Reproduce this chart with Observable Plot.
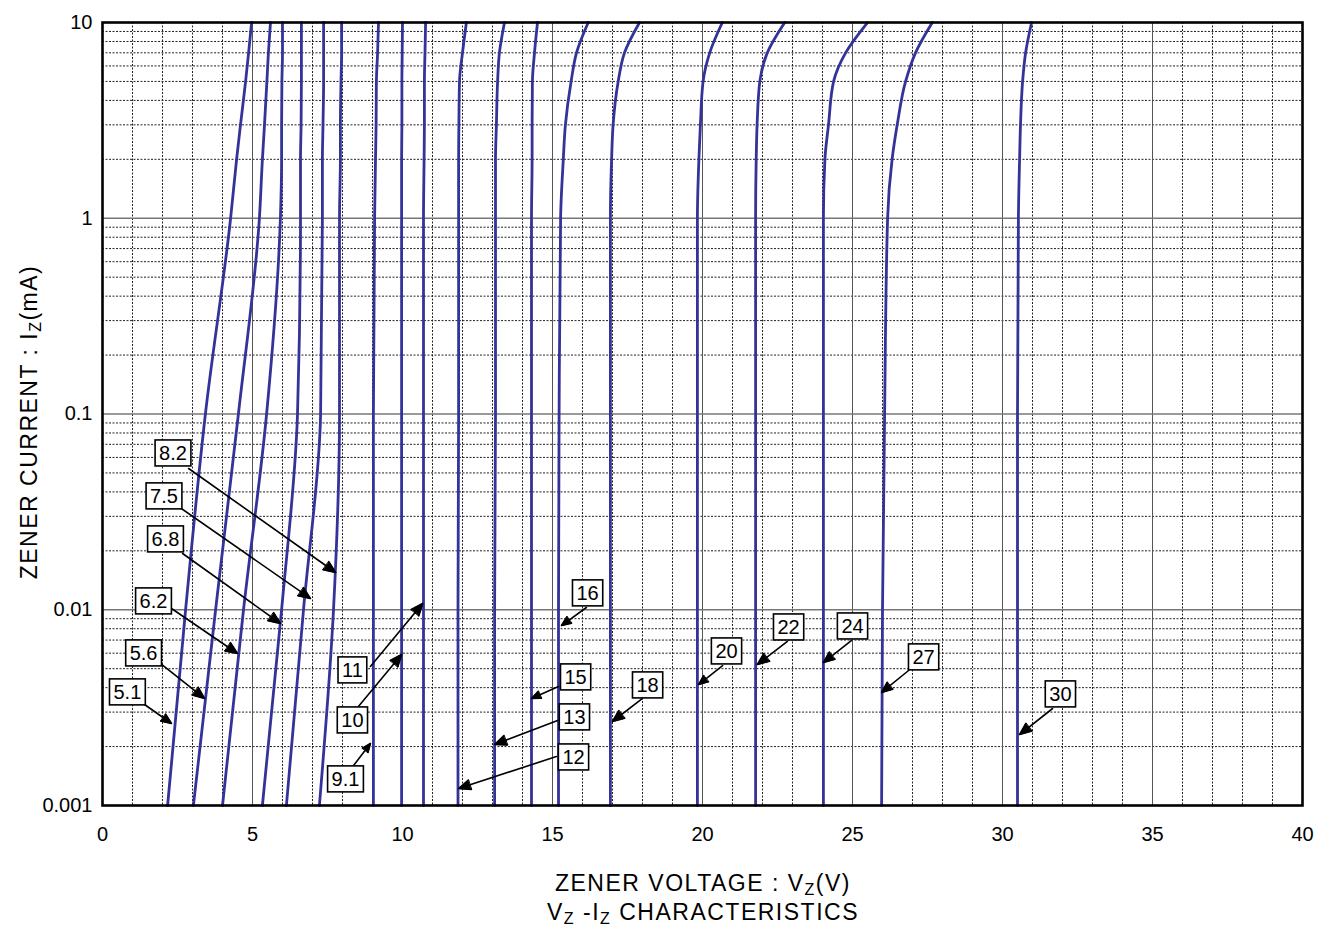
<!DOCTYPE html>
<html><head><meta charset="utf-8">
<script src="https://cdn.jsdelivr.net/npm/d3@7"></script>
<script src="https://cdn.jsdelivr.net/npm/@observablehq/plot@0.6"></script>
<style>
body{margin:0;background:#fff;}
svg{display:block;font-family:"Liberation Sans",Arial,Helvetica,sans-serif;}
</style>
</head><body><div id="chart"></div>
<script>
// Zener current levels (mA) at which each curve's voltage was read
const currentLevels = [0.001, 0.01, 0.1, 1, 2, 3, 5, 7, 10];
// Zener voltage (V) of each diode at those current levels
const vz5_1 = [2.17, 2.77, 3.43, 4.27, 4.47, 4.60, 4.77, 4.87, 4.97];
const vz5_6 = [3.03, 3.77, 4.53, 5.23, 5.33, 5.40, 5.48, 5.53, 5.60];
const vz6_2 = [4.00, 4.70, 5.47, 5.93, 5.97, 5.97, 5.98, 6.00, 6.00];
const vz6_8 = [5.33, 5.97, 6.50, 6.60, 6.60, 6.62, 6.63, 6.63, 6.63];
const vz7_5 = [6.13, 6.70, 7.27, 7.33, 7.33, 7.35, 7.37, 7.37, 7.37];
const vz8_2 = [7.23, 7.70, 7.90, 7.90, 7.93, 7.93, 7.95, 7.97, 7.97];
const vz9_1 = [9.03, 9.03, 9.03, 9.07, 9.10, 9.12, 9.13, 9.17, 9.20];
const vz10  = [9.97, 9.97, 9.97, 9.97, 9.97, 9.98, 9.98, 9.99, 10.00];
const vz11  = [10.70, 10.70, 10.70, 10.70, 10.72, 10.73, 10.73, 10.75, 10.77];
const vz12  = [11.85, 11.85, 11.87, 11.87, 11.87, 11.88, 11.90, 12.00, 12.13];
const vz13  = [13.07, 13.07, 13.10, 13.10, 13.10, 13.13, 13.17, 13.23, 13.40];
const vz15  = [14.30, 14.30, 14.30, 14.30, 14.32, 14.32, 14.33, 14.40, 14.50];
const vz16  = [15.20, 15.20, 15.22, 15.27, 15.36, 15.43, 15.62, 15.80, 16.19];
const vz18  = [16.93, 16.93, 16.93, 16.93, 16.97, 17.02, 17.19, 17.40, 17.90];
const vz20  = [19.83, 19.83, 19.83, 19.83, 19.88, 19.93, 20.02, 20.24, 20.66];
const vz22  = [21.77, 21.77, 21.77, 21.77, 21.79, 21.82, 21.91, 22.16, 22.74];
const vz24  = [24.03, 24.03, 24.03, 24.03, 24.08, 24.20, 24.37, 24.77, 25.50];
const vz27  = [25.97, 26.00, 26.07, 26.17, 26.32, 26.49, 26.77, 27.10, 27.66];
const vz30  = [30.50, 30.50, 30.50, 30.53, 30.57, 30.60, 30.67, 30.77, 30.97];

const diodeNames = ["5.1","5.6","6.2","6.8","7.5","8.2","9.1","10","11","12","13","15","16","18","20","22","24","27","30"];
const diodeSeries = [vz5_1, vz5_6, vz6_2, vz6_8, vz7_5, vz8_2, vz9_1, vz10, vz11, vz12, vz13, vz15, vz16, vz18, vz20, vz22, vz24, vz27, vz30];

// Callout labels: box centre, arrow tail and arrow tip (V, mA)
const labelV = [0.83, 1.37, 1.70, 2.10, 2.05, 2.35, 8.10, 8.33, 8.33, 15.70, 15.73, 15.77, 16.17, 18.17, 20.80, 22.87, 25.00, 27.37, 31.93];
const labelI = [0.003779, 0.005976, 0.01102, 0.02285, 0.0379, 0.0628, 0.001358, 0.002717, 0.004894, 0.001758, 0.002816, 0.004507, 0.01211, 0.004102, 0.006118, 0.008111, 0.008207, 0.005704, 0.003690];
const tailV = [1.40, 1.97, 2.30, 2.67, 2.63, 2.87, 8.37, 8.53, 8.93, 15.13, 15.17, 15.20, 16.13, 18.00, 20.67, 22.83, 24.97, 26.87, 31.67];
const tailI = [0.003281, 0.005253, 0.01015, 0.01938, 0.0329, 0.05267, 0.001601, 0.003204, 0.005129, 0.001779, 0.002717, 0.004055, 0.01027, 0.003522, 0.00519, 0.006885, 0.006966, 0.004894, 0.00313];
const tipV = [2.30, 3.40, 4.50, 5.93, 6.93, 7.77, 8.93, 9.97, 10.67, 11.87, 13.07, 14.30, 15.30, 17.00, 19.87, 21.83, 24.03, 25.97, 30.57];
const tipI = [0.002624, 0.003522, 0.005976, 0.008506, 0.01142, 0.0155, 0.002074, 0.005907, 0.01076, 0.001221, 0.00205, 0.003522, 0.008305, 0.002686, 0.00415, 0.005253, 0.005375, 0.003779, 0.002305];

// Axis ticks and grid positions
const xTicks = [0, 5, 10, 15, 20, 25, 30, 35, 40];
const yTicks = [0.001, 0.01, 0.1, 1, 10];
const xMinorGrid = d3.range(1, 40).filter(v => v % 5 !== 0);
const xMajorGrid = [5, 10, 15, 20, 25, 30, 35];
const yMajorGrid = [0.01, 0.1, 1];
const yMinorGrid = [0.001, 0.01, 0.1, 1].flatMap(d => [2,3,4,5,6,7,8,9].map(k => +(d * k).toPrecision(3)));

const curveRows = diodeNames.flatMap((name, j) =>
  currentLevels.map((I, i) => ({name, V: diodeSeries[j][i], I})));
const labelRows = diodeNames.map((name, i) => ({
  name, V: labelV[i], I: labelI[i], tV: tailV[i], tI: tailI[i], hV: tipV[i], hI: tipI[i]
}));

const dotted = {stroke: "#222", strokeWidth: 1, strokeDasharray: "2,1.5"};

const chart = Plot.plot({
  width: 1319,
  height: 934,
  marginTop: 22,
  marginBottom: 129,
  marginLeft: 102,
  marginRight: 17,
  style: {fontFamily: '"Liberation Sans", Arial, sans-serif', fontSize: "20px", color: "#000", background: "#fff"},
  x: {domain: [0, 40]},
  y: {type: "log", domain: [0.001, 10]},
  marks: [
    Plot.ruleX(xMinorGrid, dotted),
    Plot.ruleY(yMinorGrid, dotted),
    Plot.ruleX(xMajorGrid, {stroke: "#555", strokeWidth: 1}),
    Plot.ruleY(yMajorGrid, {stroke: "#777", strokeWidth: 1.6}),
    Plot.line(curveRows, {x: "V", y: "I", z: "name", curve: "monotone-y", stroke: "#333399", strokeWidth: 2.8}),
    Plot.arrow(labelRows, {x1: "tV", y1: "tI", x2: "hV", y2: "hI", stroke: "#000", strokeWidth: 1.6, headLength: 12, headAngle: 45}),
    Plot.text(labelRows, {x: "V", y: "I", text: "name", fontSize: 20, fill: "#000"}),
    Plot.frame({stroke: "#000", strokeWidth: 2.6}),
    Plot.axisX({ticks: xTicks, tickSize: 0, tickPadding: 21, fontSize: 20, label: null, tickFormat: d => String(d)}),
    Plot.axisY({ticks: yTicks, tickSize: 0, tickPadding: 10, fontSize: 20, label: null, tickFormat: d => String(d)})
  ]
});

document.getElementById("chart").appendChild(chart);
const svg = d3.select(chart);
const SVGNS = "http://www.w3.org/2000/svg";

// Filled arrow heads
svg.selectAll('g[aria-label="arrow"] path').each(function() {
  const d = this.getAttribute("d") || "";
  const n = (d.match(/-?\d*\.?\d+(?:e[-+]?\d+)?/gi) || []).map(Number);
  if (n.length >= 10) {
    const h = n.slice(-6);
    d3.select(this.parentNode).append("path")
      .attr("d", `M${h[0]},${h[1]}L${h[2]},${h[3]}L${h[4]},${h[5]}Z`)
      .attr("fill", "#000").attr("stroke", "#000").attr("stroke-width", 1);
  }
});

// Boxes behind the callout labels
svg.selectAll('g[aria-label="text"] text').each(function() {
  const b = this.getBBox();
  const padX = 4, padY = 2;
  const r = document.createElementNS(SVGNS, "rect");
  r.setAttribute("x", b.x - padX);
  r.setAttribute("y", b.y - padY);
  r.setAttribute("width", b.width + 2 * padX);
  r.setAttribute("height", b.height + 2 * padY);
  r.setAttribute("fill", "#fff");
  r.setAttribute("stroke", "#000");
  r.setAttribute("stroke-width", 1.6);
  const t = this.getAttribute("transform");
  if (t) r.setAttribute("transform", t);
  this.parentNode.insertBefore(r, this);
});

// Axis titles with subscripts
const titleFont = '"Liberation Sans", Arial, sans-serif';
function titleText(sel, parts) {
  parts.forEach(([txt, sub], k) => {
    const ts = sel.append("tspan").text(txt);
    if (sub) ts.attr("font-size", 16).attr("dy", 4);
    else if (k > 0 && parts[k - 1][1]) ts.attr("dy", -4);
  });
}
const xt = svg.append("text").attr("x", 703).attr("y", 891).attr("text-anchor", "middle")
  .attr("font-family", titleFont).attr("font-size", 23).attr("letter-spacing", 1.5).attr("fill", "#000");
titleText(xt, [["ZENER VOLTAGE : V"], ["Z", true], ["(V)"]]);

const ct = svg.append("text").attr("x", 703).attr("y", 920).attr("text-anchor", "middle")
  .attr("font-family", titleFont).attr("font-size", 23).attr("letter-spacing", 1.5).attr("fill", "#000");
titleText(ct, [["V"], ["Z", true], [" -I"], ["Z", true], [" CHARACTERISTICS"]]);

const yt = svg.append("text").attr("transform", "translate(37,422) rotate(-90)").attr("text-anchor", "middle")
  .attr("font-family", titleFont).attr("font-size", 23).attr("letter-spacing", 1.5).attr("fill", "#000");
titleText(yt, [["ZENER CURRENT : I"], ["Z", true], ["(mA)"]]);
</script>
</body></html>
